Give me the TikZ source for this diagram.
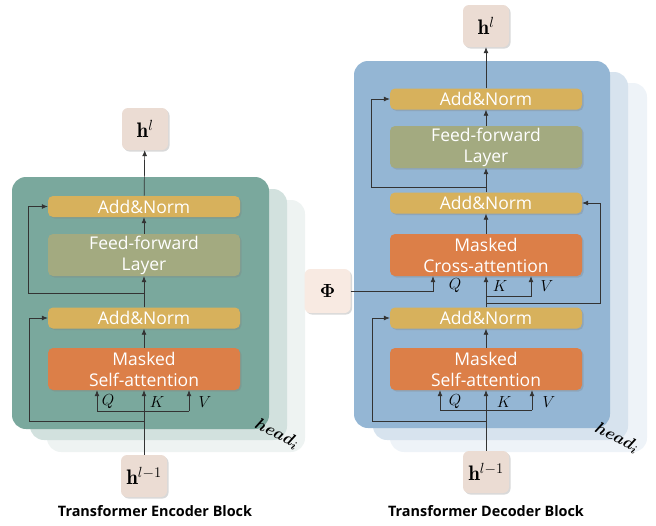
\RequirePackage{fix-cm}
\documentclass[tikz,border=0pt]{standalone}
\usepackage{amsmath,amssymb}
\usepackage{fontspec}
\newfontfamily\blockfont{Open Sans}
\usepackage{tikz}
\usetikzlibrary{arrows.meta,positioning,shadows}

\definecolor{encpanel}{HTML}{7AA89D}
\definecolor{encpanelb}{HTML}{D2E1DE}
\definecolor{encpanelc}{HTML}{EEF3F2}
\definecolor{decpanel}{HTML}{94B6D4}
\definecolor{decpanelb}{HTML}{D7E3EE}
\definecolor{decpanelc}{HTML}{EEF3F8}
\definecolor{normcol}{HTML}{D7B15C}
\definecolor{feedcol}{HTML}{A3AA80}
\definecolor{attncol}{HTML}{DC7F48}
\definecolor{hcol}{HTML}{EBDCD3}
\definecolor{phicol}{HTML}{F8EAE2}
\definecolor{linecol}{HTML}{333333}

\begin{document}
\begin{tikzpicture}[x=1pt, y=1pt, >={Latex[length=6pt,width=5pt]},
  block/.style={rounded corners=5pt, minimum width=192pt, inner sep=0pt,
    text=white, align=center, font=\blockfont\fontsize{17.5}{21}\selectfont,
    drop shadow={opacity=0.3, shadow xshift=1.5pt, shadow yshift=-1.5pt}},
  normbox/.style={block, fill=normcol, minimum height=21pt},
  feedbox/.style={block, fill=feedcol, minimum height=42pt},
  attnbox/.style={block, fill=attncol, minimum height=42pt},
  hbox/.style={rounded corners=6pt, fill=hcol, minimum width=46pt,
    minimum height=42pt, inner sep=0pt, font=\fontsize{21}{24}\selectfont,
    drop shadow={opacity=0.3, shadow xshift=1.5pt, shadow yshift=-1.5pt}},
  qkv/.style={font=\fontsize{16}{16}\selectfont, inner sep=0pt},
  headlbl/.style={rotate=-28, font=\fontsize{17}{17}\selectfont, inner sep=0pt},
  caption/.style={font=\blockfont\bfseries\fontsize{14.4}{16}\selectfont},
  link/.style={draw=linecol, line width=0.7pt}]

  \useasboundingbox (0,0) rectangle (656,-525);

  % ── Stacked panels (heads) ────────────────────────────────────────────
  \fill[encpanelc, rounded corners=14pt] (47,-200) rectangle (305,-452);
  \fill[encpanelb, rounded corners=14pt] (30,-189) rectangle (287,-440);
  \fill[encpanel, rounded corners=14pt] (12,-177) rectangle (269,-429);

  \fill[decpanelc, rounded corners=14pt] (390,-83) rectangle (647,-452);
  \fill[decpanelb, rounded corners=14pt] (373,-72) rectangle (628,-440);
  \fill[decpanel, rounded corners=14pt] (354,-61) rectangle (610,-428);

  % ── Encoder block ─────────────────────────────────────────────────────
  \node[hbox] (encOut) at (145,-129) {$\mathbf{h}^{l}$};
  \node[normbox] (encNormB) at (144,-206.5) {Add\&Norm};
  \node[feedbox] (encFeed) at (144,-255) {Feed-forward\\Layer};
  \node[normbox] (encNormA) at (144,-318) {Add\&Norm};
  \node[attnbox] (encAttn) at (144,-369) {Masked\\Self-attention};
  \node[hbox] (encIn) at (144,-476) {$\mathbf{h}^{l-1}$};

  \node[qkv] (encQ) at (108,-402) {$Q$};
  \node[qkv] (encK) at (157,-402) {$K$};
  \node[qkv] (encV) at (205,-402) {$V$};
  \node[headlbl] (encHead) at (277,-434) {$\boldsymbol{head_i}$};
  \node[caption] (encCap) at (155,-511) {Transformer Encoder Block};

  % Q/K/V fan-out
  \coordinate (encFanQ) at (97,-411);
  \coordinate (encFanV) at (189,-411);
  \draw[link] (encFanQ) -- (encFanV);
  \draw[link,->] (encFanQ) -- (encFanQ |- encAttn.south);
  \draw[link,->] (encFanV) -- (encFanV |- encAttn.south);
  \draw[link,->] (encIn) -- (encAttn);

  % residual paths
  \coordinate (encSkipA) at (29,-421);
  \draw[link,->] (encSkipA -| encIn) -- (encSkipA) |- (encNormA.west);
  \coordinate (encSkipB) at (28,-293);
  \draw[link,->] (encSkipB -| encIn) -- (encSkipB) |- (encNormB.west);

  \draw[link,->] (encAttn) -- (encNormA);
  \draw[link,->] (encNormA) -- (encFeed);
  \draw[link,->] (encFeed) -- (encNormB);
  \draw[link,->] (encNormB) -- (encOut);

  % ── Decoder block ─────────────────────────────────────────────────────
  \node[hbox] (decOut) at (486,-26) {$\mathbf{h}^{l}$};
  \node[normbox] (decNormC) at (486,-99) {Add\&Norm};
  \node[feedbox] (decFeed) at (486,-147) {Feed-forward\\Layer};
  \node[normbox] (decNormB) at (486,-203) {Add\&Norm};
  \node[attnbox] (decCross) at (486,-255) {Masked\\Cross-attention};
  \node[normbox] (decNormA) at (486,-318) {Add\&Norm};
  \node[attnbox] (decAttn) at (486,-369) {Masked\\Self-attention};
  \node[hbox] (decIn) at (486,-472) {$\mathbf{h}^{l-1}$};
  \node[hbox, fill=phicol, minimum height=44pt, font=\fontsize{19}{20}\selectfont]
    (phi) at (327.5,-291) {$\boldsymbol{\Phi}$};

  \node[qkv] (decQ) at (455,-402) {$Q$};
  \node[qkv] (decK) at (504,-402) {$K$};
  \node[qkv] (decV) at (549,-402) {$V$};
  \node[qkv] (decCrossQlbl) at (455,-286) {$Q$};
  \node[qkv] (decCrossKlbl) at (500,-286) {$K$};
  \node[qkv] (decCrossVlbl) at (547,-286) {$V$};
  \node[headlbl] (decHead) at (617,-438) {$\boldsymbol{head_i}$};
  \node[caption] (decCap) at (486,-511) {Transformer Decoder Block};

  % Q/K/V fan-out (self-attention)
  \coordinate (decFanQ) at (440,-410);
  \coordinate (decFanV) at (532,-410);
  \draw[link] (decFanQ) -- (decFanV);
  \draw[link,->] (decFanQ) -- (decFanQ |- decAttn.south);
  \draw[link,->] (decFanV) -- (decFanV |- decAttn.south);
  \draw[link,->] (decIn) -- (decAttn);

  % cross-attention inputs
  \coordinate (decCrossQ) at (433,-292);
  \coordinate (decCrossV) at (531,-296);
  \draw[link,->] (phi) -- (phi -| decCrossQ) -- (decCrossQ |- decCross.south);
  \draw[link,->] (decCrossV -| decIn) -- (decCrossV) -- (decCrossV |- decCross.south);
  \draw[link,->] (decNormA) -- (decCross);

  % residual paths
  \coordinate (decSkipA) at (372,-421);
  \draw[link,->] (decSkipA -| decIn) -- (decSkipA) |- (decNormA.west);
  \coordinate (decSkipB) at (600,-303);
  \draw[link,->] (decSkipB -| decIn) -- (decSkipB) |- (decNormB.east);
  \coordinate (decSkipC) at (371,-187);
  \draw[link,->] (decSkipC -| decIn) -- (decSkipC) |- (decNormC.west);

  \draw[link,->] (decAttn) -- (decNormA);
  \draw[link,->] (decCross) -- (decNormB);
  \draw[link,->] (decNormB) -- (decFeed);
  \draw[link,->] (decFeed) -- (decNormC);
  \draw[link,->] (decNormC) -- (decOut);

\end{tikzpicture}
\end{document}
